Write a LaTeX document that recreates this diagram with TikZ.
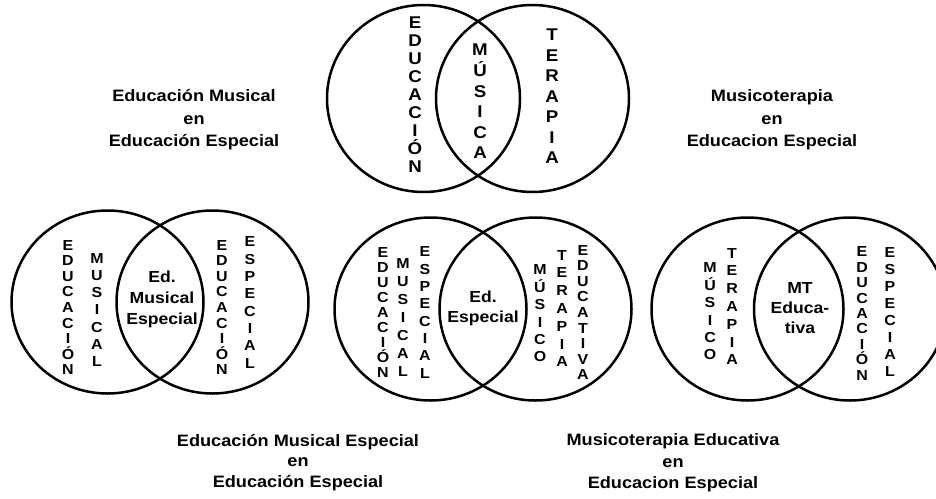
\documentclass[tikz,border=0pt]{standalone}
\usepackage{fontspec}
\setmainfont{Liberation Sans}[FakeStretch=1.1]
\usetikzlibrary{shapes.geometric}

\begin{document}
\begin{tikzpicture}[x=1pt, y=-1pt,
    ring/.style={draw, ellipse, line width=2.5pt, minimum width=192pt, minimum height=183pt, inner sep=0pt},
    vbig/.style={font=\bfseries\fontsize{17}{#1}\selectfont, align=center, inner sep=0pt},
    vsmall/.style={font=\bfseries\fontsize{14.5}{#1}\selectfont, align=center, inner sep=0pt},
    mid/.style={font=\bfseries\fontsize{16}{#1}\selectfont, align=center, inner sep=0pt},
    caption/.style={font=\bfseries\fontsize{16.5}{#1}\selectfont, align=center, inner sep=0pt}]
    \useasboundingbox (0,0) rectangle (936,498);

    % Top pair
    \node[ring, minimum width=193pt, minimum height=187pt] (topEdu) at (423.5,98.5) {};
    \node[ring, minimum width=193pt, minimum height=187pt] (topTer) at (532.5,98.5) {};
    \node[vbig=18] (topEduTxt) at (415,95) {E\\D\\U\\C\\A\\C\\I\\Ó\\N};
    \node[vbig=20.6] (topMusTxt) at (480,101.5) {M\\Ú\\S\\I\\C\\A};
    \node[vbig=20.5] (topTerTxt) at (552,96.5) {T\\E\\R\\A\\P\\I\\A};

    % Top captions
    \node[caption=22.5] (capEME) at (194,120) {Educación Musical\\en\\Educación Especial};
    \node[caption=22.5] (capMTE) at (772,120) {Musicoterapia\\en\\Educacion Especial};

    % Bottom left pair
    \node[ring] (blMus) at (107.5,302) {};
    \node[ring] (blEsp) at (212.5,302) {};
    \node[vsmall=15.6] (blEduA) at (68,307.5) {E\\D\\U\\C\\A\\C\\I\\Ó\\N};
    \node[vsmall=17.3] (blMusTxt) at (97,310) {M\\U\\S\\I\\C\\A\\L};
    \node[mid=21] (blMid) at (162,299) {Ed.\\Musical\\Especial};
    \node[vsmall=15.6] (blEduB) at (222,307.5) {E\\D\\U\\C\\A\\C\\I\\Ó\\N};
    \node[vsmall=17.3] (blEspTxt) at (250,302.5) {E\\S\\P\\E\\C\\I\\A\\L};

    % Bottom middle pair
    \node[ring] (bmMus) at (430.5,309) {};
    \node[ring] (bmMt) at (535.5,309) {};
    \node[vsmall=15.1] (bmEdu) at (383,312.5) {E\\D\\U\\C\\A\\C\\I\\Ó\\N};
    \node[vsmall=18] (bmMusTxt) at (403,317.5) {M\\U\\S\\I\\C\\A\\L};
    \node[vsmall=17.3] (bmEspTxt) at (425,312.5) {E\\S\\P\\E\\C\\I\\A\\L};
    \node[mid=20] (bmMid) at (483,308) {Ed.\\Especial};
    \node[vsmall=17.4] (bmMusico) at (540,313.5) {M\\Ú\\S\\I\\C\\O};
    \node[vsmall=17.8] (bmTer) at (562,308.5) {T\\E\\R\\A\\P\\I\\A};
    \node[vsmall=15.6] (bmEducativa) at (583,312.5) {E\\D\\U\\C\\A\\T\\I\\V\\A};

    % Bottom right pair
    \node[ring] (brMt) at (747.5,309) {};
    \node[ring] (brEsp) at (850,309) {};
    \node[vsmall=17.4] (brMusico) at (710,311.5) {M\\Ú\\S\\I\\C\\O};
    \node[vsmall=17.8] (brTer) at (732,306.5) {T\\E\\R\\A\\P\\I\\A};
    \node[mid=20] (brMid) at (800,308) {MT\\Educa-\\tiva};
    \node[vsmall=15.4] (brEdu) at (862,313.5) {E\\D\\U\\C\\A\\C\\I\\Ó\\N};
    \node[vsmall=17.1] (brEspTxt) at (890,312) {E\\S\\P\\E\\C\\I\\A\\L};

    % Bottom captions
    \node[caption=20.5] (capEMEE) at (298,462.5) {Educación Musical Especial\\en\\Educación Especial};
    \node[caption=21.5] (capMTEE) at (673,463) {Musicoterapia Educativa\\en\\Educacion Especial};
\end{tikzpicture}
\end{document}
